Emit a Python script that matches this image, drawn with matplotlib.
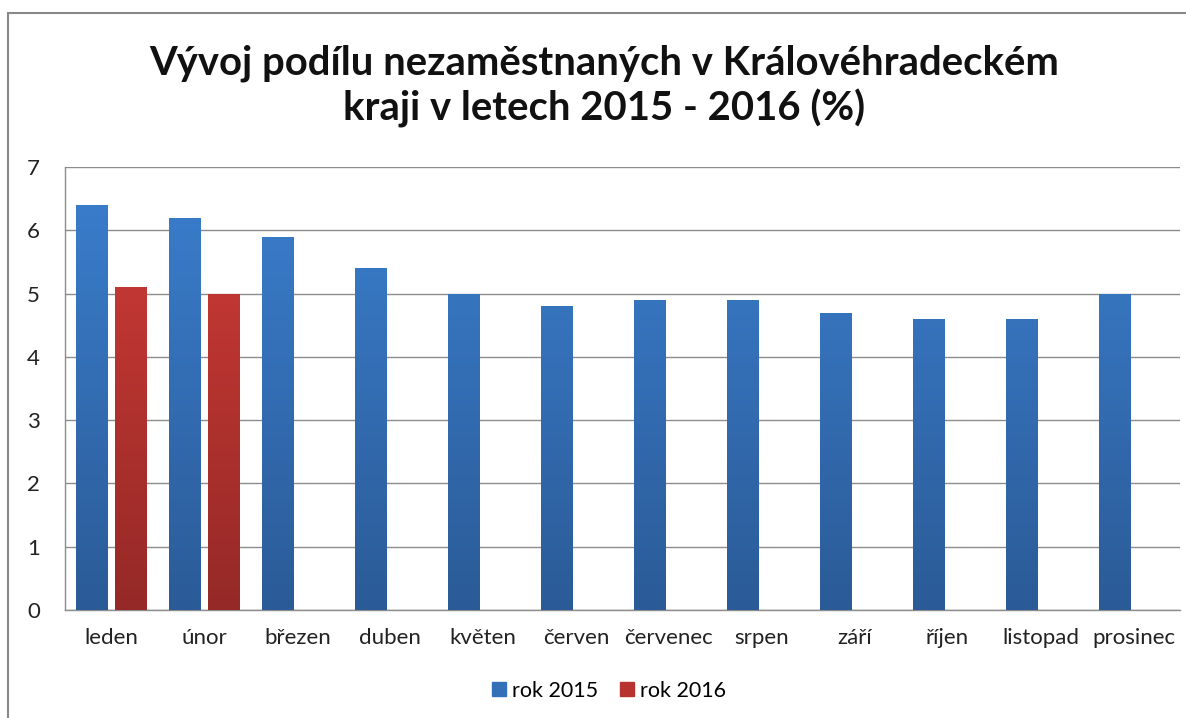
import matplotlib
matplotlib.use("Agg")
import matplotlib.pyplot as plt
import numpy as np
from matplotlib.colors import LinearSegmentedColormap
from matplotlib.patches import Rectangle

months = ["leden", "únor", "březen", "duben", "květen", "červen", "červenec",
          "srpen", "září", "říjen", "listopad", "prosinec"]
rok2015 = [6.4, 6.2, 5.9, 5.4, 5.0, 4.8, 4.9, 4.9, 4.7, 4.6, 4.6, 5.0]
rok2016 = [5.1, 5.0]
series_labels = ["rok 2015", "rok 2016"]
title = "Vývoj podílu nezaměstnaných v Královéhradeckém\nkraji v letech 2015 - 2016 (%)"

plt.rcParams['font.family'] = ['Lato', 'DejaVu Sans']

fig = plt.figure(figsize=(11.86, 7.18), dpi=100)
ax = fig.add_axes([0.0548, 0.1504, 0.9402, 0.617])

x = np.arange(len(months))
w = 0.335
off = 0.21

blue_cmap = LinearSegmentedColormap.from_list("b", ["#2b5b97", "#3b7fcf"])
red_cmap = LinearSegmentedColormap.from_list("r", ["#952927", "#d23c37"])

def grad_bars(xs, vals, cmap, color):
    bars = ax.bar(xs, vals, width=w, color=color, zorder=3, linewidth=0)
    for b in bars:
        bx, by = b.get_x(), b.get_y()
        bw, bh = b.get_width(), b.get_height()
        grad = np.linspace(0, 1, 256).reshape(-1, 1)
        im = ax.imshow(grad, cmap=cmap, origin="lower", aspect="auto",
                       extent=[bx, bx + bw, 0, 7], zorder=4)
        im.set_clip_path(b)
    return bars

b1 = grad_bars(x - off, rok2015, blue_cmap, "#3470b8")
b2 = grad_bars(x[:len(rok2016)] + off, rok2016, red_cmap, "#b73330")

ax.set_xlim(-0.5, len(months) - 0.5)
ax.set_ylim(0, 7)
ax.set_yticks(range(0, 8))
ax.set_xticks(x)
ax.set_xticklabels(months)
ax.tick_params(axis='both', length=0, labelsize=16, colors="#222222")
ax.tick_params(axis='x', pad=13)
ax.tick_params(axis='y', pad=18)
for lab in ax.get_yticklabels():
    lab.set_horizontalalignment('right')
ax.yaxis.grid(True, color="#8c8c8c", linewidth=1.0, zorder=0)
ax.set_axisbelow(True)
for s in ["top", "right"]:
    ax.spines[s].set_visible(False)
for s in ["left", "bottom"]:
    ax.spines[s].set_color("#8c8c8c")
    ax.spines[s].set_linewidth(1.0)

fig.text(0.509, 0.880, title, ha="center", va="center", fontsize=28.8,
         fontweight="bold", linespacing=1.2, color="#111111")

h1 = Rectangle((0, 0), 1, 1, color="#3470b8")
h2 = Rectangle((0, 0), 1, 1, color="#b73330")
fig.legend([h1, h2], series_labels, loc="center", bbox_to_anchor=(0.5135, 0.038),
           ncol=2, frameon=False, fontsize=15.5, handlelength=0.65, handleheight=0.65,
           handletextpad=0.3, columnspacing=1.0)

# outer chart border
fig.add_artist(Rectangle((8 / 1186, -0.1), 1.2, (718 - 13) / 718 + 0.1,
                         transform=fig.transFigure, fill=False,
                         edgecolor="#888888", linewidth=1.5))

fig.savefig("out.png", dpi=100)
